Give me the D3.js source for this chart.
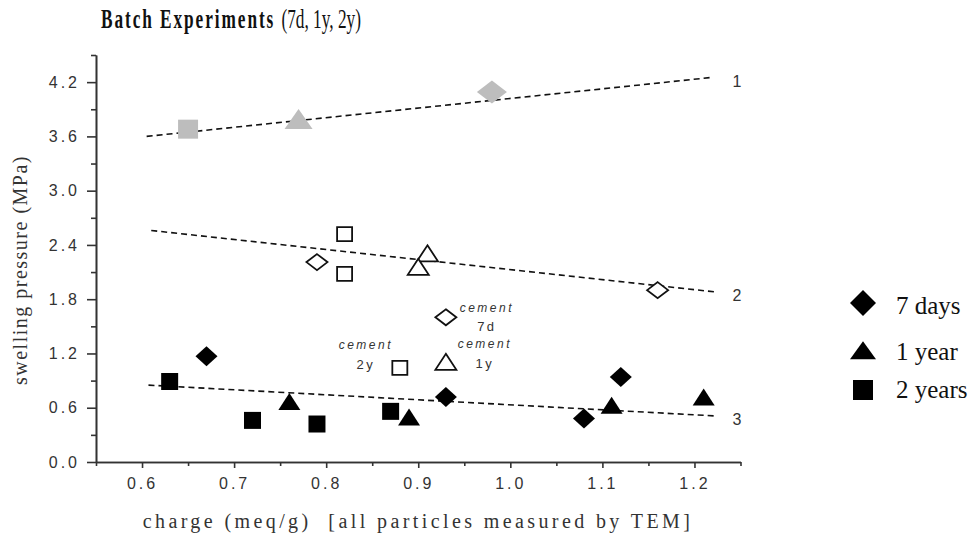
<!DOCTYPE html>
<html lang="en">
<head>
<meta charset="utf-8">
<title>Batch Experiments</title>
<script src="https://d3js.org/d3.v7.min.js"></script>
<style>
  body { margin: 0; background: #fff; }
  .title { font-family: "Liberation Serif", "DejaVu Serif", serif; font-size: 27px; fill: #111; }
  .axis-label { font-family: "Liberation Serif", "DejaVu Serif", serif; fill: #333; }
  .note { font-family: "Liberation Sans", Arial, sans-serif; font-size: 12px; font-style: italic; fill: #333; letter-spacing: 2.5px; }
  .line-id { font-family: "Liberation Sans", Arial, sans-serif; font-size: 16px; fill: #333; }
  .legend { font-family: "Liberation Serif", "Times New Roman", serif; font-size: 25px; fill: #111; }
</style>
</head>
<body>
<div id="vis"></div>
<script>
const width = 970, height = 538;

// gray markers (line 1)
const grayX = [0.65, 0.77, 0.98];
const grayY = [3.68, 3.77, 4.09];
const grayShape = ["square", "triangle", "diamond"];

// open markers (line 2)
const openX = [0.79, 0.82, 0.82, 0.91, 0.90, 1.16];
const openY = [2.21, 2.52, 2.08, 2.29, 2.14, 1.90];
const openShape = ["diamond", "square", "square", "triangle", "triangle", "diamond"];

// cement samples (open, annotated)
const cementX = [0.93, 0.88, 0.93];
const cementY = [1.60, 1.04, 1.09];
const cementShape = ["diamond", "square", "triangle"];
const cementAge = ["7d", "2y", "1y"];

// filled markers (line 3)
const filledX = [0.67, 0.63, 0.72, 0.76, 0.79, 0.87, 0.89, 0.93, 1.08, 1.11, 1.12, 1.21];
const filledY = [1.17, 0.89, 0.46, 0.65, 0.42, 0.56, 0.48, 0.72, 0.48, 0.61, 0.94, 0.70];
const filledShape = ["diamond", "square", "square", "triangle", "square", "square", "triangle", "diamond", "diamond", "triangle", "diamond", "triangle"];

// dashed fit lines: [x0, y0, x1, y1]
const fitLabels = ["1", "2", "3"];
const fitLines = [[0.605, 3.60, 1.217, 4.25], [0.61, 2.56, 1.223, 1.88], [0.607, 0.85, 1.221, 0.51]];

const xTicks = [0.6, 0.7, 0.8, 0.9, 1.0, 1.1, 1.2];
const yTicks = [0.0, 0.6, 1.2, 1.8, 2.4, 3.0, 3.6, 4.2];

const legendNames = ["7 days", "1 year", "2 years"];
const legendShape = ["diamond", "triangle", "square"];

const x = d3.scaleLinear().domain([0.55, 1.25]).range([96, 740.5]);
const y = d3.scaleLinear().domain([0, 4.5]).range([462, 55]);

const svg = d3.select("#vis").append("svg")
  .attr("width", width).attr("height", height);

// marker shape paths by width/height
function shapePath(shape, w, h) {
  if (shape === "diamond") return `M0,${-h/2}L${w/2},0L0,${h/2}L${-w/2},0Z`;
  if (shape === "triangle") return `M0,${-h*0.6}L${w/2},${h*0.4}L${-w/2},${h*0.4}Z`;
  return `M${-w/2},${-h/2}H${w/2}V${h/2}H${-w/2}Z`;
}
const sizes = {
  big:    { diamond: [30, 23], triangle: [28, 20], square: [20, 19] },
  normal: { diamond: [22, 20], triangle: [22, 17], square: [17, 17] },
  open:   { diamond: [21, 16], triangle: [21, 16], square: [15, 14] }
};

function drawMarkers(xs, ys, shapes, kind, fill, stroke) {
  svg.append("g").selectAll("path")
    .data(xs.map((v, i) => ({ x: v, y: ys[i], s: shapes[i] })))
    .join("path")
    .attr("transform", d => `translate(${x(d.x)},${y(d.y)})`)
    .attr("d", d => shapePath(d.s, sizes[kind][d.s][0], sizes[kind][d.s][1]))
    .attr("fill", fill)
    .attr("stroke", stroke)
    .attr("stroke-width", stroke === "none" ? 0 : 1.8);
}

// axes
svg.append("g").attr("transform", `translate(0,${y(0)})`)
  .call(d3.axisBottom(x).tickValues(d3.range(0.55, 1.26, 0.1)).tickFormat("").tickSize(4).tickSizeOuter(0));
svg.append("g").attr("transform", `translate(${x(0.55)},0)`)
  .call(d3.axisLeft(y).tickValues(d3.range(0.3, 4.51, 0.6)).tickFormat("").tickSize(5).tickSizeOuter(0));
svg.append("g").attr("class", "ax").attr("transform", `translate(0,${y(0)})`)
  .call(d3.axisBottom(x).tickValues(xTicks).tickFormat(d3.format(".1f")).tickSize(6).tickSizeOuter(0).tickPadding(10));
svg.append("g").attr("class", "ax").attr("transform", `translate(${x(0.55)},0)`)
  .call(d3.axisLeft(y).tickValues(yTicks).tickFormat(d3.format(".1f")).tickSize(9).tickSizeOuter(0).tickPadding(7));
svg.selectAll(".domain, .tick line").attr("stroke", "#333").attr("stroke-width", 1.6);
svg.selectAll(".ax .tick text")
  .style("font-family", "'Liberation Sans', Arial, sans-serif")
  .style("font-size", "16px")
  .style("letter-spacing", "3px")
  .attr("fill", "#333");

// fit lines
svg.append("g").selectAll("line")
  .data(fitLines)
  .join("line")
  .attr("x1", d => x(d[0])).attr("y1", d => y(d[1]))
  .attr("x2", d => x(d[2])).attr("y2", d => y(d[3]))
  .attr("stroke", "#111").attr("stroke-width", 1.6)
  .attr("stroke-dasharray", "6,4");

svg.append("g").selectAll("text")
  .data(fitLines)
  .join("text")
  .attr("class", "line-id")
  .attr("x", 737).attr("y", d => y(d[3]) + 9)
  .attr("text-anchor", "middle")
  .text((d, i) => fitLabels[i]);

// markers
drawMarkers(grayX, grayY, grayShape, "big", "#bdbdbd", "none");
drawMarkers(openX, openY, openShape, "open", "#fff", "#111");
drawMarkers(cementX, cementY, cementShape, "open", "#fff", "#111");
drawMarkers(filledX, filledY, filledShape, "normal", "#000", "none");

// cement annotations
const noteOffset = { "7d": [41, -5, 41, 14], "2y": [-34, -19, -34, 1], "1y": [39, -15, 39, 5] };
cementAge.forEach((a, i) => {
  const o = noteOffset[a];
  const cx = x(cementX[i]), cy = y(cementY[i]);
  svg.append("text").attr("class", "note").attr("text-anchor", "middle")
    .attr("x", cx + o[0]).attr("y", cy + o[1]).text("cement");
  svg.append("text").attr("class", "note").style("font-style", "normal").style("font-size", "13px")
    .attr("text-anchor", "middle")
    .attr("x", cx + o[2]).attr("y", cy + o[3]).text(a);
});

// title (condensed)
const title = svg.append("text").attr("class", "title")
  .attr("transform", "translate(231,28) scale(0.64,1)")
  .attr("text-anchor", "middle");
title.append("tspan").attr("font-weight", "bold").attr("letter-spacing", "3px").text("Batch Experiments ");
title.append("tspan").text("(7d, 1y, 2y)");

// axis labels
svg.append("text").attr("class", "axis-label")
  .attr("transform", "translate(27,270) rotate(-90)")
  .attr("text-anchor", "middle")
  .style("font-size", "20px")
  .style("letter-spacing", "1.5px")
  .text("swelling pressure (MPa)");
svg.append("text").attr("class", "axis-label")
  .attr("x", 418).attr("y", 528)
  .attr("text-anchor", "middle")
  .attr("xml:space", "preserve")
  .style("font-size", "20px")
  .style("letter-spacing", "3.4px")
  .text("charge (meq/g)  [all particles measured by TEM]");

// legend
const legendRowY = [303, 352, 390];
const legendTextDy = [11, 8, 8];
legendNames.forEach((n, i) => {
  const g = svg.append("g").attr("transform", `translate(863,${legendRowY[i]})`);
  const wh = legendShape[i] === "square" ? [20, 20] : legendShape[i] === "diamond" ? [26, 26] : [26, 18];
  g.append("path").attr("d", shapePath(legendShape[i], wh[0], wh[1])).attr("fill", "#000");
  g.append("text").attr("class", "legend").attr("x", 33).attr("y", legendTextDy[i]).text(n);
});
</script>
</body>
</html>
